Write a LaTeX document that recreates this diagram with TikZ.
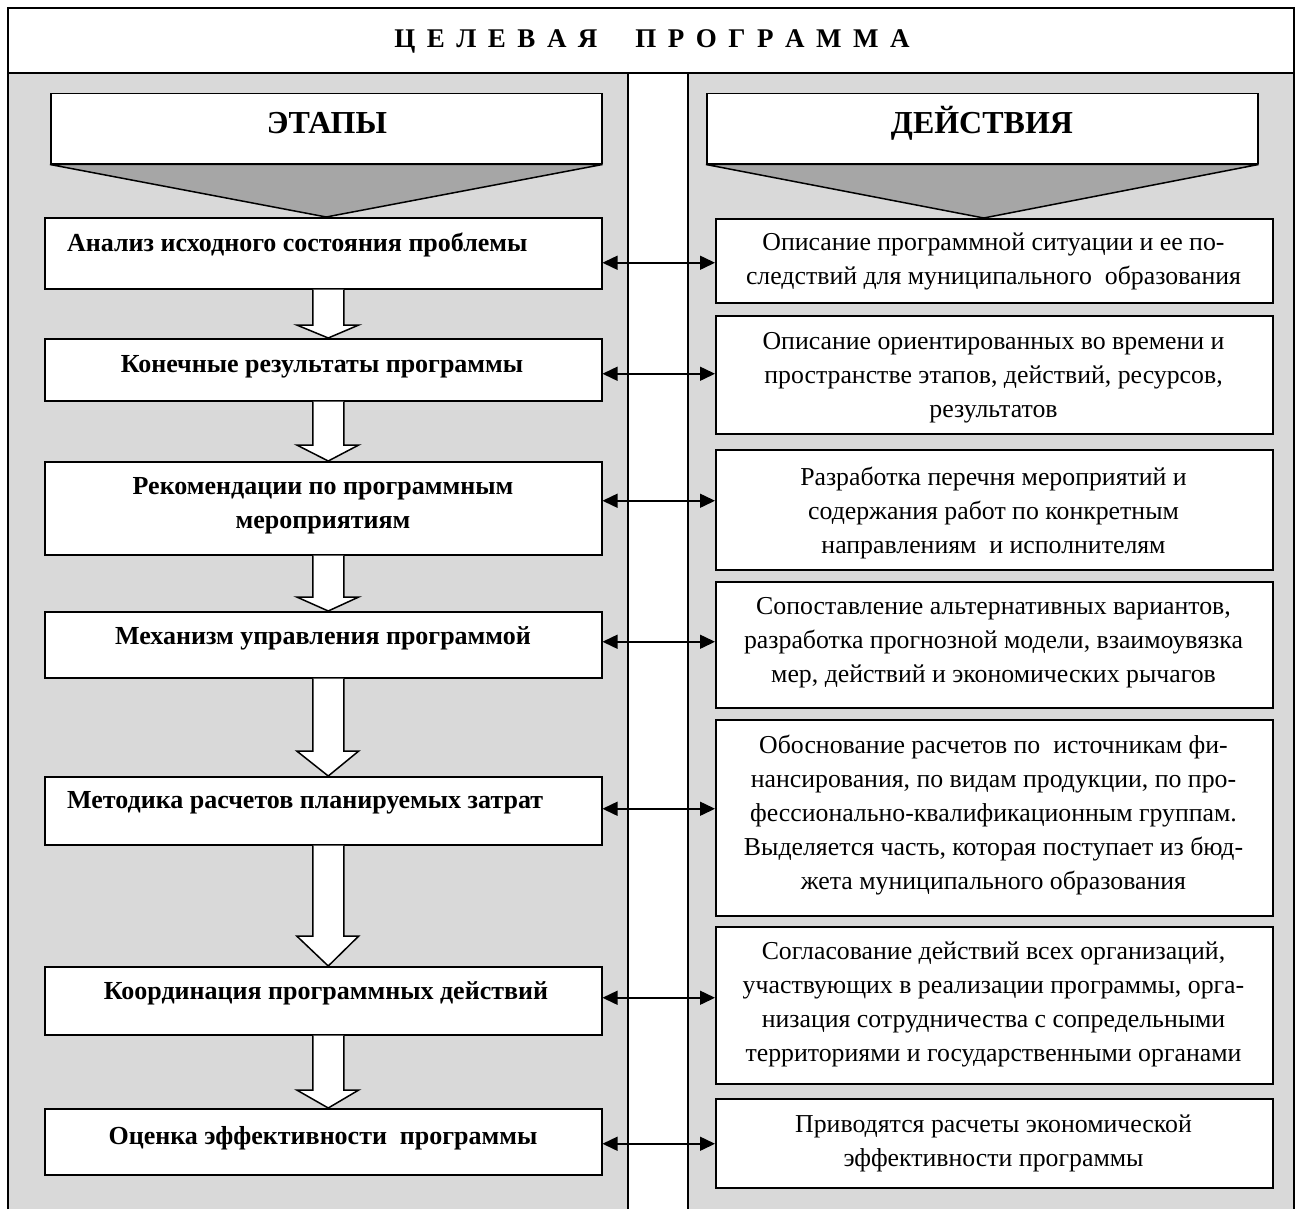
\documentclass[tikz,border=0pt]{standalone}
\usepackage{fontspec}
\setmainfont{Liberation Serif}
\usetikzlibrary{arrows.meta,calc}
\definecolor{panelgray}{RGB}{217,217,217}
\definecolor{trigray}{RGB}{166,166,166}
\newcommand\tg{\hspace{11.5pt}}
\newcommand\blkarrow[3]{%
 \draw[blk] ($(#1.south)+(-10.5,0)$) -- ($(#2.north)+(-10.5,-#3)$) -- ($(#2.north)+(-26.5,-#3)$) -- ($(#2.north)+(5,0)$) -- ($(#2.north)+(35.5,-#3)$) -- ($(#2.north)+(20.5,-#3)$) -- ($(#1.south)+(20.5,0)$);}
\newcommand\dblarrow[3]{%
 \path ([yshift=#3pt]#1.east) coordinate (#1a);
 \draw[dbl] (#1a) -- (#1a -| #2.west);}
\begin{document}
\begin{tikzpicture}[x=1pt,y=-1pt,
  frame/.style={line width=1.4pt},
  box/.style={draw, line width=1.5pt, fill=white, anchor=north west, inner sep=0pt},
  ltxt/.style={font=\bfseries\fontsize{26}{34}\selectfont, inner sep=0pt, align=center},
  rtxt/.style={font=\fontsize{25.8}{34}\selectfont, inner sep=0pt, align=center},
  htxt/.style={font=\bfseries\fontsize{32}{36}\selectfont, inner sep=0pt},
  dbl/.style={line width=1.5pt, {Triangle[length=15pt,width=14pt]}-{Triangle[length=15pt,width=14pt]}},
  blk/.style={draw, line width=1.5pt, fill=white, line join=miter},
  tri/.style={fill=trigray, draw, line width=1.5pt, line join=miter}]
\useasboundingbox (0,0) rectangle (1297,1209);
% panels
\fill[white] (0,0) rectangle (1297,1209);
\fill[panelgray] (8,73) rectangle (628,1209);
\fill[panelgray] (688,73) rectangle (1294,1209);
\draw[frame] (8,1209) -- (8,8) -- (1294,8) -- (1294,1209);
\draw[frame] (8,73) -- (1294,73);
\draw[frame] (628,73) -- (628,1209);
\draw[frame] (688,73) -- (688,1209);
% title
\node[font=\bfseries\fontsize{27}{30}\selectfont, inner sep=0pt] (title) at (652,41)
 {Ц\tg Е\tg Л\tg Е\tg В\tg А\tg Я\hspace{38pt}П\tg Р\tg О\tg Г\tg Р\tg А\tg М\tg М\tg А};
% headers
\node[box, minimum width=551pt, minimum height=70pt] (h1) at (50,93) {};
\node[box, minimum width=551pt, minimum height=70pt] (h2) at (706,93) {};
\node[htxt] (h1t) at (327,123) {ЭТАПЫ};
\node[htxt] (h2t) at (982,123) {ДЕЙСТВИЯ};
% left boxes
\node[box, minimum width=557pt, minimum height=71pt] (b1) at (44,217) {};
\node[box, minimum width=557pt, minimum height=62pt] (b2) at (44,338) {};
\node[box, minimum width=557pt, minimum height=93pt] (b3) at (44,461) {};
\node[box, minimum width=557pt, minimum height=66pt] (b4) at (44,611) {};
\node[box, minimum width=557pt, minimum height=68pt] (b5) at (44,776) {};
\node[box, minimum width=557pt, minimum height=68pt] (b6) at (44,966) {};
\node[box, minimum width=557pt, minimum height=66pt] (b7) at (44,1108) {};
% right boxes
\node[box, minimum width=557pt, minimum height=84pt] (r1) at (715,218) {};
\node[box, minimum width=557pt, minimum height=118pt] (r2) at (715,315) {};
\node[box, minimum width=557pt, minimum height=120pt] (r3) at (715,449) {};
\node[box, minimum width=557pt, minimum height=126pt] (r4) at (715,581) {};
\node[box, minimum width=557pt, minimum height=196pt] (r5) at (715,719) {};
\node[box, minimum width=557pt, minimum height=157pt] (r6) at (715,926) {};
\node[box, minimum width=557pt, minimum height=89pt] (r7) at (715,1098) {};
% triangles
\draw[tri] (h1.south west) -- (h1.south east) -- (h1.south |- b1.north) -- cycle;
\draw[tri] (h2.south west) -- (h2.south east) -- ($(h2.south |- r1.north)+(1.5,0)$) -- cycle;
% left texts
\node[ltxt, anchor=west] (t1) at (67,245) {Анализ исходного состояния проблемы};
\node[ltxt] (t2) at (322,367) {Конечные результаты программы};
\node[ltxt] (t3) at (323,505.5) {Рекомендации по программным\\мероприятиям};
\node[ltxt] (t4) at (323,638) {Механизм управления программой};
\node[ltxt, anchor=west] (t5) at (67,803) {Методика расчетов планируемых затрат};
\node[ltxt] (t6) at (326,993) {Координация программных действий};
\node[ltxt] (t7) at (323,1138) {Оценка эффективности\ \ программы};
% right texts
\node[rtxt] (s1) at (993.5,261) {Описание программной ситуации и ее по-\\следствий для муниципального\ \ образования};
\node[rtxt] (s2) at (993.5,378) {Описание ориентированных во времени и\\пространстве этапов, действий, ресурсов,\\результатов};
\node[rtxt] (s3) at (993.5,513) {Разработка перечня мероприятий и\\содержания работ по конкретным\\направлениям\ \ и исполнителям};
\node[rtxt] (s4) at (993.5,643) {Сопоставление альтернативных вариантов,\\разработка прогнозной модели, взаимоувязка\\мер, действий и экономических рычагов};
\node[rtxt] (s5) at (993.5,815) {Обоснование расчетов по\ \ источникам фи-\\нансирования, по видам продукции, по про-\\фессионально-квалификационным группам.\\Выделяется часть, которая поступает из бюд-\\жета муниципального образования};
\node[rtxt] (s6) at (993.5,1004) {Согласование действий всех организаций,\\участвующих в реализации программы, орга-\\низация сотрудничества с сопредельными\\территориями и государственными органами};
\node[rtxt] (s7) at (993.5,1143) {Приводятся расчеты экономической\\эффективности программы};
% block arrows
\blkarrow{b1}{b2}{13}
\blkarrow{b2}{b3}{16}
\blkarrow{b3}{b4}{14}
\blkarrow{b4}{b5}{25}
\blkarrow{b5}{b6}{30}
\blkarrow{b6}{b7}{18}
% double arrows
\dblarrow{b1}{r1}{-9.5}
\dblarrow{b2}{r2}{-4}
\dblarrow{b3}{r3}{7.5}
\dblarrow{b4}{r4}{3}
\dblarrow{b5}{r5}{2}
\dblarrow{b6}{r6}{3}
\dblarrow{b7}{r7}{-2}
\end{tikzpicture}
\end{document}
